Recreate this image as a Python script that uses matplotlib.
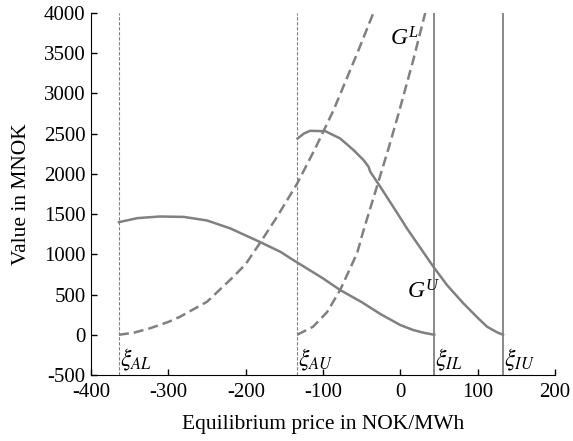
import numpy as np
import matplotlib
matplotlib.use("Agg")
from matplotlib import pyplot as plt

# thresholds (vertical lines)
xi_vals = [-364, -133.5, 43.7, 132.6]
xi_labels = [r'$\xi_{AL}$', r'$\xi_{AU}$', r'$\xi_{IL}$', r'$\xi_{IU}$']

# lower solid curve (A side)
gu_a_x = [-364, -340, -311, -280, -250, -220, -181, -155, -140, -100, -78, -50, -26, 0, 16.5, 30, 43.7]
gu_a_y = [1400, 1450, 1470, 1465, 1420, 1322, 1150, 1030, 937, 700, 556, 405, 258, 120, 59, 25, 0]

# lower dashed curve (A side)
gl_a_x = [-364, -345, -324, -300, -285, -250, -216, -200, -181, -160, -142.6, -133.5, -110, -86.5, -55, -35]
gl_a_y = [0, 25, 80, 160, 224, 411, 721, 880, 1150, 1460, 1736, 1881, 2320, 2792, 3520, 4000]

# upper solid curve (I side)
gu_i_x = [-133, -125, -117, -97, -78, -60.6, -47.7, -41.2, -39, -26, 0, 8.4, 20, 42.6, 60, 81, 100, 112, 125, 132.6]
gu_i_y = [2440, 2500, 2535, 2530, 2440, 2295, 2171, 2088, 2025, 1839, 1450, 1322, 1160, 845, 620, 394, 210, 100, 30, 0]

# upper dashed curve (I side)
gl_i_x = [-133.5, -113, -95, -78, -56, -47.7, -30.5, -15, -2.4, 16.7, 32]
gl_i_y = [0, 100, 280, 556, 1015, 1300, 1839, 2330, 2751, 3420, 4000]

plt.rcParams['font.family'] = ['Liberation Serif', 'DejaVu Serif']
plt.rcParams['mathtext.fontset'] = 'custom'
plt.rcParams['mathtext.rm'] = 'Liberation Serif'
plt.rcParams['mathtext.it'] = 'Liberation Serif:italic'
plt.rcParams['axes.unicode_minus'] = False

gray = '#808080'

fig = plt.figure(figsize=(5.73, 4.41), dpi=100)
ax = fig.add_axes([0.159, 0.1497, 0.8098, 0.8209])

for i, xv in enumerate(xi_vals):
    if i < 2:
        ax.axvline(xv, color=gray, lw=0.8, ls=(0, (3, 1.5)))
    else:
        ax.axvline(xv, color=gray, lw=1.3)
    ax.text(xv + 1, -480, xi_labels[i], fontsize=17, ha='left', va='bottom',
            math_fontfamily='stix')

ax.plot(gu_a_x, gu_a_y, color=gray, lw=1.8)
ax.plot(gl_a_x, gl_a_y, color=gray, lw=1.8, dashes=(4, 2))
ax.plot(gu_i_x, gu_i_y, color=gray, lw=1.8)
ax.plot(gl_i_x, gl_i_y, color=gray, lw=1.8, dashes=(4, 2))

ax.text(-13, 3600, r'$G^L$', fontsize=17, ha='left', va='baseline')
ax.text(9, 456, r'$G^U$', fontsize=17, ha='left', va='baseline')

ax.set_xlim(-400, 200)
ax.set_ylim(-500, 4000)
ax.set_xticks(np.arange(-400, 201, 100))
ax.set_yticks(np.arange(-500, 4001, 500))
ax.tick_params(direction='in', length=4, width=1, labelsize=15)
ax.tick_params(axis='x', pad=6)
ax.tick_params(axis='y', pad=4)
ax.spines['top'].set_visible(False)
ax.spines['right'].set_visible(False)
ax.set_xlabel('Equilibrium price in NOK/MWh', fontsize=15.5, labelpad=9)
ax.set_ylabel('Value in MNOK', fontsize=15.5, labelpad=9)

fig.savefig('out.png', dpi=100)
